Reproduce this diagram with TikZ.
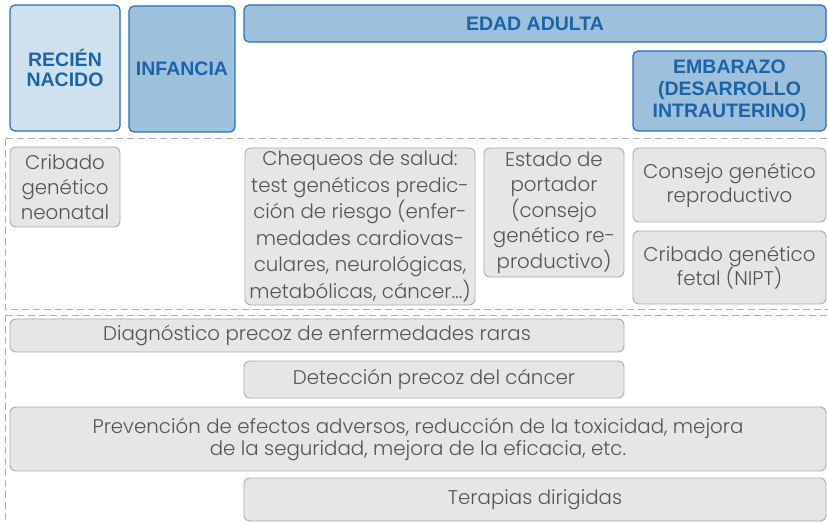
\documentclass[tikz,border=0pt]{standalone}
\usepackage{fontspec}
\setmainfont{Poppins}[UprightFont=* Light]
\newfontfamily\hfont{Liberation Sans}
\definecolor{hborder}{HTML}{2A70B3}
\definecolor{htext}{HTML}{1C63A8}
\definecolor{hlight}{HTML}{CFE0EF}
\definecolor{hmid}{HTML}{9DC0DD}
\definecolor{gfill}{HTML}{E6E6E6}
\definecolor{gborder}{HTML}{ABABAB}
\definecolor{gtext}{HTML}{555555}
\definecolor{dashc}{HTML}{ADADAD}
\begin{document}
\begin{tikzpicture}[x=1pt,y=-1pt,
  hbox/.style={draw=hborder, line width=1.2pt, rounded corners=5pt, text=htext, align=center, inner sep=0pt,
    font=\hfont\bfseries\fontsize{19.5}{20.5}\selectfont},
  gbox/.style={draw=gborder, fill=gfill, line width=0.9pt, rounded corners=6pt, text=gtext, align=center, inner sep=0pt,
    font=\fontsize{19.8}{25.5}\selectfont},
  dashbox/.style={draw=dashc, line width=1pt, dash pattern=on 7pt off 4pt}]
\useasboundingbox (0,0) rectangle (828,524);
\clip (0,0) rectangle (828,524);
% dashed regions
\draw[dashbox] (5,139) rectangle (840,309);
\draw[dashbox] (5,315) rectangle (840,540);
% headers
\node[hbox, fill=hlight, minimum width=110, minimum height=126] (recien) at (65,68) {RECIÉN\\NACIDO};
\node[hbox, fill=hmid, minimum width=106, minimum height=126] (infancia) at (182,69) {INFANCIA};
\node[hbox, fill=hmid, minimum width=582, minimum height=37] (adulta) at (535,23.5) {EDAD ADULTA};
\node[hbox, fill=hmid, minimum width=193, minimum height=80, font=\hfont\bfseries\fontsize{19.5}{22}\selectfont] (embarazo) at (729.5,91) {EMBARAZO\\(DESARROLLO\\INTRAUTERINO)};
% gray boxes
\node[gbox, minimum width=110, minimum height=80, font=\fontsize{19.8}{25}\selectfont] (cribado) at (65,187) {Cribado\\genético\\neonatal};
\node[gbox, minimum width=230, minimum height=157, font=\fontsize{19.8}{26.5}\selectfont] (chequeos) at (360,226.5) {Chequeos de salud:\\test genéticos predic-\\ción de riesgo (enfer-\\medades cardiovas-\\culares, neurológicas,\\metabólicas, cáncer...)};
\node[gbox, minimum width=140, minimum height=129] (estado) at (554,212.5) {Estado de\\portador\\(consejo\\genético re-\\productivo)};
\node[gbox, minimum width=193, minimum height=74, font=\fontsize{19.8}{24}\selectfont] (consejo) at (729.5,185) {Consejo genético\\reproductivo};
\node[gbox, minimum width=193, minimum height=73, font=\fontsize{19.8}{24}\selectfont] (nipt) at (729.5,267.5) {Cribado genético\\fetal (NIPT)};
\node[gbox, minimum width=614, minimum height=33] (diag) at (317,335.5) {Diagnóstico precoz de enfermedades raras};
\node[gbox, minimum width=380, minimum height=37] (detec) at (434,379.5) {Detección precoz del cáncer};
\node[gbox, minimum width=816, minimum height=64, font=\fontsize{19.8}{22}\selectfont] (prev) at (418,439) {Prevención de efectos adversos, reducción de la toxicidad, mejora\\de la seguridad, mejora de la eficacia, etc.};
\node[gbox, minimum width=582, minimum height=43] (terap) at (535,499.5) {Terapias dirigidas};
\end{tikzpicture}
\end{document}
